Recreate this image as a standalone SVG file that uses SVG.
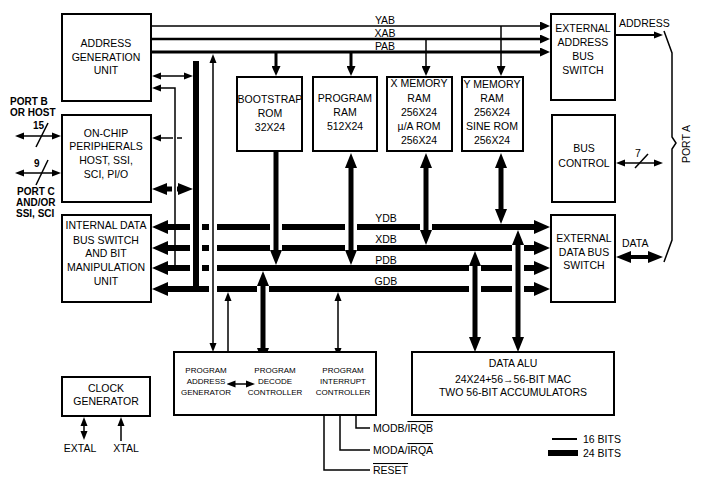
<svg xmlns="http://www.w3.org/2000/svg" width="704" height="484" viewBox="0 0 704 484">
<style>
.box{fill:#fff;stroke:#000;stroke-width:2}
.t{font-family:"Liberation Sans",Arial,sans-serif;font-size:10.5px;text-anchor:middle;fill:#000}
.s{font-family:"Liberation Sans",Arial,sans-serif;font-size:8px;text-anchor:middle;fill:#000}
.l{font-family:"Liberation Sans",Arial,sans-serif;font-size:10.5px;fill:#000}
.b{font-family:"Liberation Sans",Arial,sans-serif;font-size:10px;font-weight:bold;fill:#000}
.thin{stroke:#000;stroke-width:1.5;fill:none}
.bus{stroke:#000;stroke-width:6;fill:none}
.vb{stroke:#000;stroke-width:5;fill:none}
.gap{fill:#fff}
.ov{text-decoration:overline}
</style>
<defs>
<marker id="ta" viewBox="0 -4 9 8" markerWidth="9" markerHeight="8" refX="0.5" refY="0" orient="auto-start-reverse" markerUnits="userSpaceOnUse"><path d="M0,-3.5L9,0L0,3.5z"/></marker>
<marker id="sa" viewBox="0 -4.5 10 9" markerWidth="10" markerHeight="9" refX="0.5" refY="0" orient="auto-start-reverse" markerUnits="userSpaceOnUse"><path d="M0,-4.5L10,0L0,4.5z"/></marker>
<marker id="ma" viewBox="0 -6 15 12" markerWidth="15" markerHeight="12" refX="0.5" refY="0" orient="auto-start-reverse" markerUnits="userSpaceOnUse"><path d="M0,-6L15,0L0,6z"/></marker>
<marker id="ba" viewBox="0 -7 16 14" markerWidth="16" markerHeight="14" refX="0.5" refY="0" orient="auto-start-reverse" markerUnits="userSpaceOnUse"><path d="M0,-7L16,0L0,7z"/></marker>
</defs>
<rect width="704" height="484" fill="#fff"/>

<g id="connectors">
  <!-- address buses -->
  <line x1="152" y1="26" x2="540.5" y2="26" stroke="#000" stroke-width="1.5" marker-end="url(#sa)"/>
  <line x1="152" y1="39" x2="540.5" y2="39" stroke="#000" stroke-width="2.5" marker-end="url(#sa)"/>
  <line x1="152" y1="52" x2="540.5" y2="52" stroke="#000" stroke-width="3" marker-end="url(#sa)"/>
  <text class="t" x="385" y="24" font-size="10">YAB</text>
  <text class="t" x="385" y="37" font-size="10">XAB</text>
  <text class="t" x="385" y="50" font-size="10">PAB</text>
  <line x1="276" y1="53" x2="276" y2="66.5" stroke="#000" stroke-width="3" marker-end="url(#sa)"/>
  <line x1="351" y1="53" x2="351" y2="66.5" stroke="#000" stroke-width="3" marker-end="url(#sa)"/>
  <line x1="426" y1="40" x2="426" y2="66.5" stroke="#000" stroke-width="1.5" marker-end="url(#sa)"/>
  <line x1="501" y1="26" x2="501" y2="66.5" stroke="#000" stroke-width="1.5" marker-end="url(#sa)"/>

  <!-- AGU side links -->
  <line class="thin" x1="160.5" y1="76" x2="184.5" y2="76" marker-start="url(#ta)" marker-end="url(#ta)"/>
  <path class="thin" d="M160.5,88H175V266" marker-start="url(#ta)"/>
  <path class="thin" d="M160.5,138H173" marker-start="url(#ta)"/>
  <path class="thin" d="M177,138H182"/>
  <line class="vb" x1="172" y1="189" x2="166.5" y2="189" marker-end="url(#ma)"/>
  <line class="vb" x1="177" y1="189" x2="178.5" y2="189" marker-end="url(#ma)"/>
  <rect x="193" y="61" width="6" height="231" fill="#000"/>

  <!-- data buses -->
  <line class="bus" x1="167.5" y1="227" x2="534.5" y2="227" marker-start="url(#ba)" marker-end="url(#ba)"/>
  <line class="bus" x1="167.5" y1="248" x2="534.5" y2="248" marker-start="url(#ba)" marker-end="url(#ba)"/>
  <line class="bus" x1="167.5" y1="268" x2="534.5" y2="268" marker-start="url(#ba)" marker-end="url(#ba)"/>
  <line class="bus" x1="167.5" y1="289" x2="534.5" y2="289" marker-start="url(#ba)" marker-end="url(#ba)"/>
  <text class="t" x="386" y="222" font-size="10">YDB</text>
  <text class="t" x="386" y="243" font-size="10">XDB</text>
  <text class="t" x="386" y="264" font-size="10">PDB</text>
  <text class="t" x="386" y="285" font-size="10">GDB</text>
  <!-- crossing gaps -->
  <g class="gap">
    <rect x="190" y="223" width="3" height="8"/><rect x="199" y="223" width="3" height="8"/>
    <rect x="190" y="244" width="3" height="8"/><rect x="199" y="244" width="3" height="8"/>
    <rect x="190" y="264" width="3" height="8"/><rect x="199" y="264" width="3" height="8"/>
    <rect x="209" y="223" width="8" height="8"/><rect x="209" y="244" width="8" height="8"/>
    <rect x="209" y="264" width="8" height="8"/><rect x="209" y="285" width="8" height="8"/>
    <rect x="270" y="223" width="12" height="8"/><rect x="270" y="244" width="12" height="8"/>
    <rect x="345" y="223" width="12" height="8"/><rect x="345" y="244" width="12" height="8"/>
    <rect x="420" y="223" width="12" height="8"/>
    <rect x="257" y="285" width="12" height="8"/>
    <rect x="469" y="264" width="12" height="8"/><rect x="469" y="285" width="12" height="8"/>
    <rect x="512" y="244" width="12" height="8"/><rect x="512" y="264" width="12" height="8"/><rect x="512" y="285" width="12" height="8"/>
  </g>

  <!-- verticals -->
  <line class="thin" x1="213" y1="62.5" x2="213" y2="343.5" marker-start="url(#ta)" marker-end="url(#ta)"/>
  <line class="thin" x1="228" y1="300.5" x2="228" y2="355.5" marker-start="url(#ta)" marker-end="url(#ta)"/>
  <line class="thin" x1="338" y1="300.5" x2="338" y2="348.5" marker-start="url(#ta)" marker-end="url(#ta)"/>
  <line class="vb" x1="276" y1="152" x2="276" y2="250.5" marker-end="url(#ma)"/>
  <line class="vb" x1="351" y1="167.5" x2="351" y2="250.5" marker-start="url(#ma)" marker-end="url(#ma)"/>
  <line class="vb" x1="426" y1="167.5" x2="426" y2="230.5" marker-start="url(#ma)" marker-end="url(#ma)"/>
  <line class="vb" x1="501" y1="167.5" x2="501" y2="209.5" marker-start="url(#ma)" marker-end="url(#ma)"/>
  <line class="vb" x1="263" y1="285.5" x2="263" y2="348.5" marker-start="url(#ma)" marker-end="url(#ma)"/>
  <line class="vb" x1="475" y1="265.5" x2="475" y2="337.5" marker-start="url(#ma)" marker-end="url(#ma)"/>
  <line class="vb" x1="518" y1="244.5" x2="518" y2="337.5" marker-start="url(#ma)" marker-end="url(#ma)"/>

  <!-- left ports -->
  <line class="thin" x1="23.5" y1="136" x2="52.5" y2="136" marker-start="url(#ta)" marker-end="url(#ta)"/>
  <line class="thin" x1="36" y1="147" x2="48" y2="123"/>
  <line class="thin" x1="23.5" y1="173" x2="52.5" y2="173" marker-start="url(#ta)" marker-end="url(#ta)"/>
  <line class="thin" x1="36" y1="185" x2="48" y2="160"/>
  <text class="b" x="10" y="105" font-size="10.5">PORT B</text>
  <text class="b" x="10" y="116" font-size="10.5">OR HOST</text>
  <text class="b" x="33" y="129">15</text>
  <text class="b" x="34" y="167">9</text>
  <text class="b" x="17" y="195">PORT C</text>
  <text class="b" x="16" y="206">AND/OR</text>
  <text class="b" x="16" y="217">SSI, SCI</text>

  <!-- right side -->
  <line x1="616" y1="35" x2="654.5" y2="35" stroke="#000" stroke-width="2" marker-end="url(#ta)"/>
  <text class="l" x="619" y="27" font-size="10">ADDRESS</text>
  <path class="thin" d="M664,31L672,53V137L676,143L672,149V240L664,262"/>
  <text class="t" x="690" y="144" font-size="10" transform="rotate(-90 690 144)">PORT A</text>
  <line class="thin" x1="624.5" y1="163" x2="654.5" y2="163" marker-start="url(#ta)" marker-end="url(#ta)"/>
  <line class="thin" x1="635" y1="168" x2="648" y2="154"/>
  <text class="l" x="635" y="157" font-size="10">7</text>
  <line x1="630.5" y1="257" x2="648.5" y2="257" stroke="#000" stroke-width="4" marker-start="url(#ma)" marker-end="url(#ma)"/>
  <text class="l" x="622" y="247" font-size="10">DATA</text>

  <!-- clock -->
  <line class="thin" x1="84" y1="425.5" x2="84" y2="431.5" marker-start="url(#ta)" marker-end="url(#ta)"/>
  <line class="thin" x1="121" y1="441" x2="121" y2="425.5" marker-end="url(#ta)"/>
  <text class="t" x="80" y="452">EXTAL</text>
  <text class="t" x="126" y="452">XTAL</text>

  <!-- interrupt inputs -->
  <path class="thin" d="M370,428H356V411.5" marker-end="url(#ta)"/>
  <path class="thin" d="M370,450H340V411.5" marker-end="url(#ta)"/>
  <path class="thin" d="M370,470H324V411.5" marker-end="url(#ta)"/>
  <text class="l" x="373" y="432" font-size="11">MODB/<tspan class="ov">IRQB</tspan></text>
  <text class="l" x="373" y="454" font-size="11">MODA/<tspan class="ov">IRQA</tspan></text>
  <text class="l" x="373" y="474" font-size="11"><tspan class="ov">RESET</tspan></text>

  <!-- legend -->
  <line x1="552" y1="439" x2="577" y2="439" stroke="#000" stroke-width="2"/>
  <rect x="548" y="450" width="30" height="6" fill="#000"/>
  <text class="l" x="583" y="443" font-size="11">16 BITS</text>
  <text class="l" x="583" y="457" font-size="11">24 BITS</text>
</g>

<g id="agu">
  <rect class="box" x="62" y="14" width="89" height="87"/>
  <text class="t" x="106" y="47">ADDRESS</text>
  <text class="t" x="106" y="61">GENERATION</text>
  <text class="t" x="106" y="74">UNIT</text>
</g>
<g id="peripherals">
  <rect class="box" x="62" y="115" width="89" height="87"/>
  <text class="t" x="106" y="137">ON-CHIP</text>
  <text class="t" x="106" y="150">PERIPHERALS</text>
  <text class="t" x="106" y="164">HOST, SSI,</text>
  <text class="t" x="106" y="178">SCI, PI/O</text>
</g>
<g id="idbs">
  <rect class="box" x="62" y="215" width="89" height="87"/>
  <text class="t" x="106" y="229">INTERNAL DATA</text>
  <text class="t" x="106" y="244">BUS SWITCH</text>
  <text class="t" x="106" y="257">AND BIT</text>
  <text class="t" x="106" y="271">MANIPULATION</text>
  <text class="t" x="106" y="285">UNIT</text>
</g>
<g id="clock">
  <rect class="box" x="62" y="377" width="88" height="39"/>
  <text class="t" x="106" y="392">CLOCK</text>
  <text class="t" x="106" y="405">GENERATOR</text>
</g>
<g id="bootstrap">
  <rect class="box" x="237" y="77" width="65" height="74"/>
  <text class="t" x="270" y="103">BOOTSTRAP</text>
  <text class="t" x="270" y="117">ROM</text>
  <text class="t" x="270" y="131">32X24</text>
</g>
<g id="pram">
  <rect class="box" x="313" y="77" width="64" height="74"/>
  <text class="t" x="345" y="102">PROGRAM</text>
  <text class="t" x="345" y="116">RAM</text>
  <text class="t" x="345" y="130">512X24</text>
</g>
<g id="xmem">
  <rect class="box" x="387" y="77" width="65" height="74"/>
  <text class="t" x="419" y="87">X MEMORY</text>
  <text class="t" x="419" y="102">RAM</text>
  <text class="t" x="419" y="116">256X24</text>
  <text class="t" x="419" y="130">µ/A ROM</text>
  <text class="t" x="419" y="144">256X24</text>
</g>
<g id="ymem">
  <rect class="box" x="462" y="77" width="61" height="74"/>
  <text class="t" x="492" y="88">Y MEMORY</text>
  <text class="t" x="492" y="102">RAM</text>
  <text class="t" x="492" y="116">256X24</text>
  <text class="t" x="492" y="130">SINE ROM</text>
  <text class="t" x="492" y="144">256X24</text>
</g>
<g id="eabs">
  <rect class="box" x="551" y="14" width="64" height="86"/>
  <text class="t" x="583" y="32">EXTERNAL</text>
  <text class="t" x="583" y="46">ADDRESS</text>
  <text class="t" x="583" y="60">BUS</text>
  <text class="t" x="583" y="74">SWITCH</text>
</g>
<g id="busctl">
  <rect class="box" x="552" y="115" width="63" height="87"/>
  <text class="t" x="584" y="152">BUS</text>
  <text class="t" x="584" y="167">CONTROL</text>
</g>
<g id="edbs">
  <rect class="box" x="551" y="215" width="64" height="87"/>
  <text class="t" x="584" y="242">EXTERNAL</text>
  <text class="t" x="584" y="256">DATA BUS</text>
  <text class="t" x="584" y="269">SWITCH</text>
</g>
<g id="program">
  <rect class="box" x="174" y="352" width="202" height="63"/>
  <text class="s" x="206" y="373">PROGRAM</text>
  <text class="s" x="206" y="384">ADDRESS</text>
  <text class="s" x="206" y="395">GENERATOR</text>
  <text class="s" x="275" y="373">PROGRAM</text>
  <text class="s" x="275" y="384">DECODE</text>
  <text class="s" x="275" y="395">CONTROLLER</text>
  <text class="s" x="343" y="373">PROGRAM</text>
  <text class="s" x="343" y="384">INTERRUPT</text>
  <text class="s" x="343" y="395">CONTROLLER</text>
  <line class="thin" x1="235" y1="384" x2="246.5" y2="384" marker-start="url(#ta)" marker-end="url(#ta)"/>
</g>
<g id="alu">
  <rect class="box" x="412" y="352" width="202" height="63"/>
  <text class="t" x="513" y="367" font-size="11">DATA ALU</text>
  <text class="t" x="513" y="383" font-size="11">24X24+56→56-BIT MAC</text>
  <text class="t" x="513" y="396" font-size="11">TWO 56-BIT ACCUMULATORS</text>
</g>
</svg>
